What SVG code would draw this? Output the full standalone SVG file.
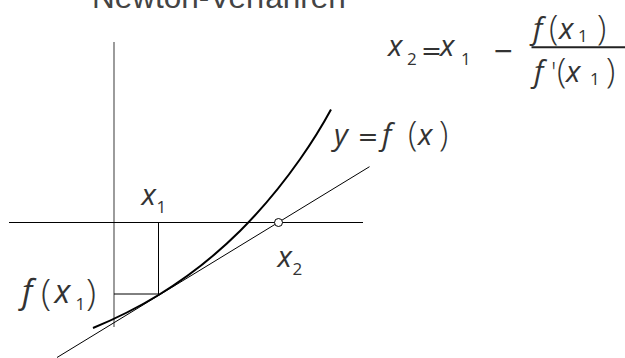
<svg xmlns="http://www.w3.org/2000/svg" width="625" height="358" viewBox="0 0 625 358">
  <style>
    .title { font-family: "Liberation Sans", Arial, sans-serif; font-size: 31.5px; fill: #444; }
    .m { font-family: "Open Sans", "DejaVu Sans", sans-serif; font-style: italic; font-size: 30px; fill: #333; }
    .mb { font-family: "Open Sans", "DejaVu Sans", sans-serif; font-style: italic; font-size: 33px; fill: #333; }
    .sub { font-family: "Open Sans", "DejaVu Sans", sans-serif; font-style: normal; font-size: 17px; fill: #333; }
    .par { font-family: "Open Sans", "DejaVu Sans", sans-serif; font-style: normal; font-weight: 300; font-size: 34px; fill: #333; }
    .eq { font-family: "DejaVu Sans", sans-serif; font-style: normal; font-size: 25px; fill: #333; }
    .thin { stroke: #000; stroke-width: 1; fill: none; }
  </style>

  <g id="title">
    <text class="title" x="92" y="7.5">Newton-Verfahren</text>
  </g>

  <g id="axes">
    <line x1="114" y1="42" x2="114" y2="327" stroke="#666" stroke-width="1.3"/>
    <line x1="9" y1="222.5" x2="363" y2="222.5" stroke="#000" stroke-width="1.2"/>
  </g>

  <g id="connectors">
    <g id="tangent">
      <line class="thin" x1="57" y1="357.5" x2="369.5" y2="166.7"/>
    </g>
    <g id="x1-guides">
      <polyline class="thin" points="158.5,222.5 158.5,294 114,294"/>
    </g>
    <g id="curve">
      <path d="M93,328 C114.8,319 136.7,308.3 158.5,295 C185.7,278.5 212.8,258 240,231 C260,211.1 280,187.8 300,159.3 C310.3,144.6 320.7,128.5 331,109.5" fill="none" stroke="#000" stroke-width="2"/>
    </g>
    <g id="x2-point">
      <circle cx="278.5" cy="222.5" r="4" fill="#fff" stroke="#000" stroke-width="1"/>
    </g>
  </g>

  <g id="formula">
    <text class="m" x="388" y="56">x</text>
    <text class="sub" x="407" y="64.5">2</text>
    <text class="eq" x="421" y="58.5">=</text>
    <text class="m" x="440" y="56">x</text>
    <text class="sub" x="461" y="64.5">1</text>
    <text class="eq" x="493" y="58.5">−</text>
    <line x1="531.5" y1="47.3" x2="625" y2="47.3" stroke="#222" stroke-width="2"/>
    <text class="m" x="533" y="39">f</text>
    <text class="par" x="549" y="40">(</text>
    <text class="m" x="559" y="39">x</text>
    <text class="sub" x="578" y="41.5">1</text>
    <text class="par" x="597" y="40">)</text>
    <text class="m" x="534" y="81.5">f</text>
    <text class="par" x="551" y="81.5" style="font-size:28px">'</text>
    <text class="par" x="557" y="82.5">(</text>
    <text class="m" x="566" y="81.5">x</text>
    <text class="sub" x="590" y="85">1</text>
    <text class="par" x="606" y="82.5">)</text>
  </g>

  <g id="label-y">
    <text class="m" x="334" y="145">y</text>
    <text class="eq" x="357.5" y="144.7">=</text>
    <text class="m" x="382" y="145">f</text>
    <text class="par" x="408" y="146">(</text>
    <text class="m" x="418" y="145">x</text>
    <text class="par" x="439" y="146">)</text>
  </g>

  <g id="label-x1">
    <text class="m" x="141.5" y="205">x</text>
    <text class="sub" x="156.5" y="213.3">1</text>
  </g>

  <g id="label-x2">
    <text class="m" x="277.5" y="267">x</text>
    <text class="sub" x="292.5" y="275">2</text>
  </g>

  <g id="label-fx1">
    <text class="mb" x="22" y="303.3">f</text>
    <text class="par" x="41" y="304.5" style="font-size:37px">(</text>
    <text class="mb" x="54.5" y="303.3">x</text>
    <text class="sub" x="75.5" y="310">1</text>
    <text class="par" x="86" y="304.5" style="font-size:37px">)</text>
  </g>
</svg>
